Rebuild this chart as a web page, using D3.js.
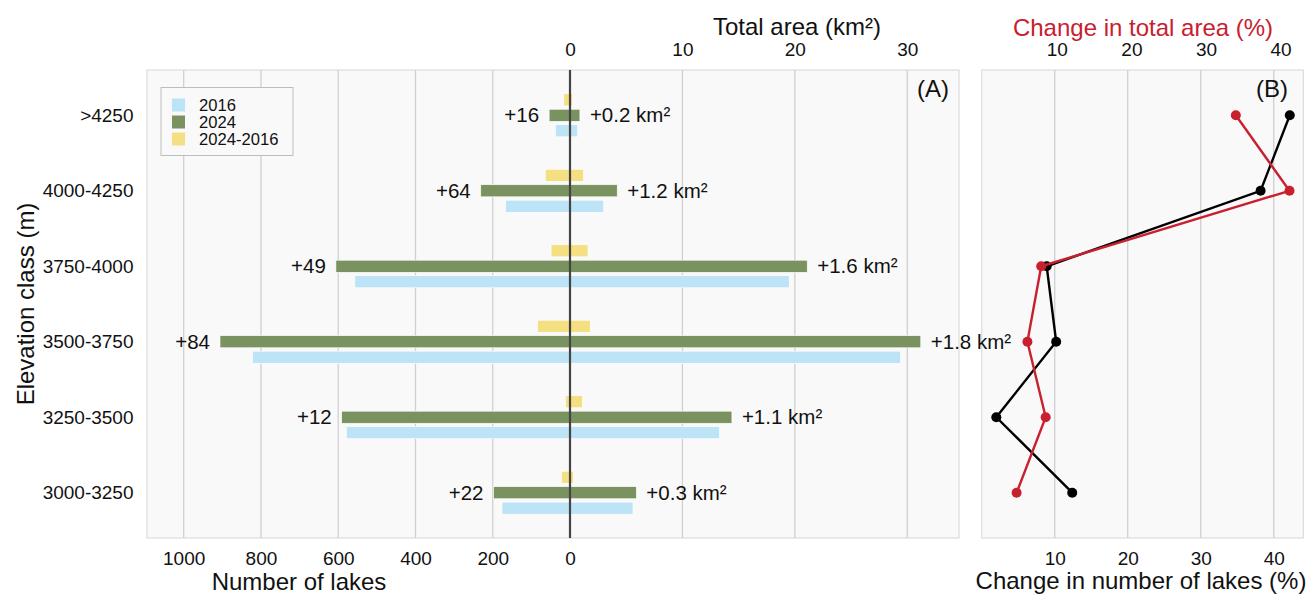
<!DOCTYPE html>
<html>
<head>
<meta charset="utf-8">
<script src="https://cdn.jsdelivr.net/npm/d3@7"></script>
<style>
  body { margin: 0; background: #fff; }
  svg { display: block; }
  text { font-family: "Liberation Sans", Arial, sans-serif; }
</style>
</head>
<body>
<svg id="chart" width="1314" height="596"></svg>
<script>
// ---------------- DATA (bottom to top) ----------------
const categories = ["3000-3250", "3250-3500", "3500-3750", "3750-4000", "4000-4250", ">4250"];
const lakes2016 = [176, 579, 822, 557, 167, 38];
const lakes2024 = [198, 591, 906, 606, 231, 54];
const area2016 = [5.6, 13.3, 29.4, 19.5, 3.0, 0.68];
const area2024 = [5.9, 14.4, 31.2, 21.1, 4.2, 0.88];
const lakeChangeLabels = ["+22", "+12", "+84", "+49", "+64", "+16"];
const areaChangeLabels = ["+0.3 km²", "+1.1 km²", "+1.8 km²", "+1.6 km²", "+1.2 km²", "+0.2 km²"];
const pctLakesChange = [12.4, 2.0, 10.2, 8.9, 38.2, 42.2];
const pctAreaChange = [4.6, 8.5, 6.05, 7.9, 41.2, 34.0];
const lakeTicks = [1000, 800, 600, 400, 200, 0];
const areaTicks = [0, 10, 20, 30];
const pctTicks = [10, 20, 30, 40];
const legendLabels = ["2016", "2024", "2024-2016"];

// ---------------- STYLE ----------------
const C16 = "#bde4f6", C24 = "#7a9260", CDIFF = "#f4e083", RED = "#c8202f";
const FONT = "'Liberation Sans', Arial, sans-serif";
const svg = d3.select("#chart");

// Panel geometry
const A = { left: 147, right: 959, top: 70, bottom: 538, zero: 570 };
const B = { left: 981.7, right: 1303.3, top: 70, bottom: 538 };

const y = d3.scaleLinear().domain([-0.6, 5.6]).range([A.bottom, A.top]);
const xLakes = d3.scaleLinear().domain([0, 1095]).range([A.zero, A.left]);
const xArea = d3.scaleLinear().domain([0, 34.6]).range([A.zero, A.right]);
const xPctB = d3.scaleLinear().domain([0, 44.05]).range([B.left, B.right]);
const xPctT = d3.scaleLinear().domain([-0.08, 43.05]).range([B.left, B.right]);

const idx = d3.range(categories.length);

// ---------------- PANEL A ----------------
const gA = svg.append("g");
gA.append("rect").attr("x", A.left).attr("y", A.top)
  .attr("width", A.right - A.left).attr("height", A.bottom - A.top)
  .attr("fill", "#f9f9f9").attr("stroke", "#dcdcdc").attr("stroke-width", 1.2);

// grid
gA.selectAll(".gl").data(lakeTicks.filter(d => d > 0)).join("line")
  .attr("x1", d => xLakes(d)).attr("x2", d => xLakes(d))
  .attr("y1", A.top).attr("y2", A.bottom)
  .attr("stroke", "#d0d0d0").attr("stroke-width", 1.3);
gA.selectAll(".ga").data(areaTicks.filter(d => d > 0)).join("line")
  .attr("x1", d => xArea(d)).attr("x2", d => xArea(d))
  .attr("y1", A.top).attr("y2", A.bottom)
  .attr("stroke", "#d0d0d0").attr("stroke-width", 1.3);

const barH = y(0) - y(0.16);
const off = 0.205;
// 2016 bars (below)
gA.selectAll(".b16").data(idx).join("rect")
  .attr("x", i => xLakes(lakes2016[i]))
  .attr("width", i => xArea(area2016[i]) - xLakes(lakes2016[i]))
  .attr("y", i => y(i - off) - barH / 2).attr("height", barH)
  .attr("fill", C16).attr("stroke", "#ffffff").attr("stroke-width", 0.6);
// 2024 bars (centre)
gA.selectAll(".b24").data(idx).join("rect")
  .attr("x", i => xLakes(lakes2024[i]))
  .attr("width", i => xArea(area2024[i]) - xLakes(lakes2024[i]))
  .attr("y", i => y(i) - barH / 2).attr("height", barH)
  .attr("fill", C24).attr("stroke", "#ffffff").attr("stroke-width", 0.6);
// difference bars (above)
gA.selectAll(".bd").data(idx).join("rect")
  .attr("x", i => xLakes(lakes2024[i] - lakes2016[i]))
  .attr("width", i => xArea(area2024[i] - area2016[i]) - xLakes(lakes2024[i] - lakes2016[i]))
  .attr("y", i => y(i + off) - barH / 2).attr("height", barH)
  .attr("fill", CDIFF).attr("stroke", "#ffffff").attr("stroke-width", 0.6);

// zero line
gA.append("line").attr("x1", A.zero).attr("x2", A.zero)
  .attr("y1", A.top).attr("y2", A.bottom)
  .attr("stroke", "#444").attr("stroke-width", 2.2);

// axes
function styleAxis(g, size) {
  g.select(".domain").remove();
  g.selectAll("text").attr("font-family", FONT).attr("font-size", size).attr("fill", "#111");
}
svg.append("g").attr("transform", `translate(0,${A.bottom})`)
  .call(d3.axisBottom(xLakes).tickValues(lakeTicks).tickSize(0).tickPadding(14).tickFormat(d3.format("d")))
  .call(g => styleAxis(g, 19));
svg.append("g").attr("transform", `translate(0,${A.top})`)
  .call(d3.axisTop(xArea).tickValues(areaTicks).tickSize(0).tickPadding(14).tickFormat(d3.format("d")))
  .call(g => styleAxis(g, 19));
svg.append("g").attr("transform", `translate(${A.left},0)`)
  .call(d3.axisLeft(y).tickValues(idx).tickSize(0).tickPadding(13.5).tickFormat(i => categories[i]))
  .call(g => styleAxis(g, 19));

// titles
svg.append("text").attr("x", 797).attr("y", 35).attr("text-anchor", "middle")
  .attr("font-size", 24).attr("fill", "#111").text("Total area (km²)");
svg.append("text").attr("x", 299).attr("y", 590).attr("text-anchor", "middle")
  .attr("font-size", 24).attr("fill", "#111").text("Number of lakes");
svg.append("text").attr("transform", "translate(34,304) rotate(-90)").attr("text-anchor", "middle")
  .attr("font-size", 24).attr("fill", "#111").text("Elevation class (m)");
svg.append("text").attr("x", 933).attr("y", 97).attr("text-anchor", "middle")
  .attr("font-size", 24).attr("fill", "#111").text("(A)");

// legend
const lg = svg.append("g");
lg.append("rect").attr("x", 161).attr("y", 87.5).attr("width", 132).attr("height", 68)
  .attr("fill", "#f9f9f9").attr("stroke", "#bdbdbd").attr("stroke-width", 1);
const legColors = [C16, C24, CDIFF];
legendLabels.forEach((t, k) => {
  const cy = 105 + k * 17;
  lg.append("rect").attr("x", 172).attr("y", cy - 6.5).attr("width", 13).attr("height", 13).attr("fill", legColors[k]);
  lg.append("text").attr("x", 199).attr("y", cy).attr("dy", "0.35em")
    .attr("font-size", 16.6).attr("fill", "#111").text(t);
});

// ---------------- PANEL B ----------------
const gB = svg.append("g");
gB.append("rect").attr("x", B.left).attr("y", B.top)
  .attr("width", B.right - B.left).attr("height", B.bottom - B.top)
  .attr("fill", "#f9f9f9").attr("stroke", "#dcdcdc").attr("stroke-width", 1.2);
gB.selectAll(".gb").data(pctTicks).join("line")
  .attr("x1", d => xPctB(d)).attr("x2", d => xPctB(d))
  .attr("y1", B.top).attr("y2", B.bottom)
  .attr("stroke", "#d0d0d0").attr("stroke-width", 1.3);

const lineBlack = d3.line().x(i => xPctB(pctLakesChange[i])).y(i => y(i));
const lineRed = d3.line().x(i => xPctT(pctAreaChange[i])).y(i => y(i));
gB.append("path").attr("d", lineBlack(idx)).attr("fill", "none").attr("stroke", "#000").attr("stroke-width", 2.4);
gB.selectAll(".pk").data(idx).join("circle")
  .attr("cx", i => xPctB(pctLakesChange[i])).attr("cy", i => y(i)).attr("r", 5).attr("fill", "#000");
gB.append("path").attr("d", lineRed(idx)).attr("fill", "none").attr("stroke", RED).attr("stroke-width", 2.4);
gB.selectAll(".pr").data(idx).join("circle")
  .attr("cx", i => xPctT(pctAreaChange[i])).attr("cy", i => y(i)).attr("r", 5).attr("fill", RED);

svg.append("g").attr("transform", `translate(0,${B.bottom})`)
  .call(d3.axisBottom(xPctB).tickValues(pctTicks).tickSize(0).tickPadding(14).tickFormat(d3.format("d")))
  .call(g => styleAxis(g, 19));
svg.append("g").attr("transform", `translate(0,${B.top})`)
  .call(d3.axisTop(xPctT).tickValues(pctTicks).tickSize(0).tickPadding(14).tickFormat(d3.format("d")))
  .call(g => styleAxis(g, 19));

svg.append("text").attr("x", 1143).attr("y", 36).attr("text-anchor", "middle")
  .attr("font-size", 24).attr("fill", RED).text("Change in total area (%)");
svg.append("text").attr("x", 1141).attr("y", 589).attr("text-anchor", "middle")
  .attr("font-size", 24).attr("fill", "#111").text("Change in number of lakes (%)");
svg.append("text").attr("x", 1272).attr("y", 97).attr("text-anchor", "middle")
  .attr("font-size", 24).attr("fill", "#111").text("(B)");

// ---------------- BAR LABELS (on top) ----------------
const lab = svg.append("g").attr("font-size", 20.5).attr("fill", "#111");
lab.selectAll(".ll").data(idx).join("text")
  .attr("x", i => xLakes(lakes2024[i]) - 10).attr("y", i => y(i)).attr("dy", "0.35em")
  .attr("text-anchor", "end").text(i => lakeChangeLabels[i]);
lab.selectAll(".la").data(idx).join("text")
  .attr("x", i => xArea(area2024[i]) + 10).attr("y", i => y(i)).attr("dy", "0.35em")
  .attr("text-anchor", "start").text(i => areaChangeLabels[i]);
</script>
</body>
</html>
